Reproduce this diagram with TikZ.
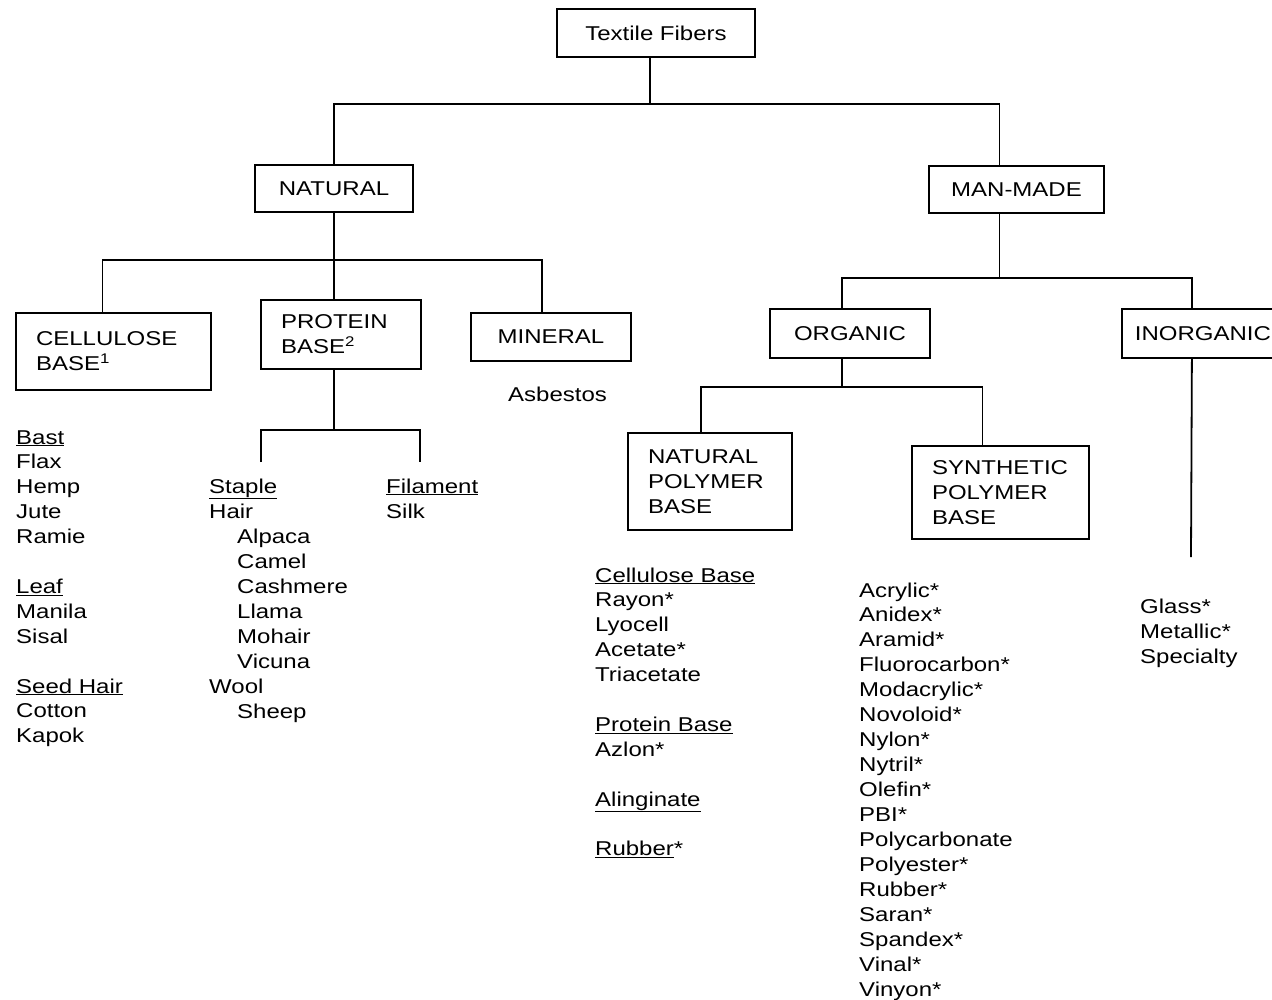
\documentclass[tikz,border=0pt]{standalone}
\usepackage{fontspec}
\setmainfont[FakeStretch=1.2]{Liberation Sans}
\tikzset{
  box/.style={draw, line width=1.8pt, inner xsep=20pt, inner ysep=0pt, font=\fontsize{20}{25}\selectfont},
  item/.style={anchor=base west, inner sep=0pt, font=\fontsize{20}{25}\selectfont},
  wire/.style={line width=1.8pt}
}
\begin{document}
\begin{tikzpicture}[x=1pt,y=-1pt]
	\useasboundingbox (0,0) rectangle (1272,999);
	\fill[white] (0,0) rectangle (1272,999);
	\clip (0,0) rectangle (1272,999);

	% boxes
	\node[box, text width=158pt, minimum height=48pt, align=center] (fibers) at (656,33) {Textile Fibers};
	\node[box, text width=118pt, minimum height=47pt, align=center] (nat) at (334,188.5) {NATURAL};
	\node[box, text width=135pt, minimum height=47pt, align=center] (man) at (1016.5,189.5) {MAN-MADE};

	\node[box, text width=155pt, minimum height=77pt, align=left] (cell) at (113.5,351.5) {CELLULOSE\\BASE\textsuperscript{1}};
	\node[box, text width=120pt, minimum height=69pt, align=left] (prot) at (341,334.5) {PROTEIN\\BASE\textsuperscript{2}};
	\node[box, text width=120pt, minimum height=48pt, align=center] (min) at (551,337) {MINERAL};
	\node[box, text width=120pt, minimum height=49pt, align=center] (org) at (850,333.5) {ORGANIC};
	\node[box, text width=160pt, minimum height=49pt, align=left, inner xsep=13pt, anchor=west] (inorg) at (1121,333.5) {INORGANIC};

	\node[box, text width=124pt, minimum height=97pt, align=left] (npb) at (710,481.5) {NATURAL\\POLYMER\\BASE};
	\node[box, text width=137pt, minimum height=93pt, align=left] (spb) at (1000.5,492.5) {SYNTHETIC\\POLYMER\\BASE};

	% ports
	\coordinate (fibersS) at ([xshift=-6pt]fibers.south);
	\coordinate (manN) at ([xshift=-17pt]man.north);
	\coordinate (manS) at ([xshift=-17pt]man.south);
	\coordinate (cellN) at ([xshift=-11pt]cell.north);
	\coordinate (protN) at ([xshift=-7pt]prot.north);
	\coordinate (protS) at ([xshift=-7pt]prot.south);
	\coordinate (minN) at ([xshift=-9pt]min.north);
	\coordinate (orgN) at ([xshift=-8pt]org.north);
	\coordinate (orgS) at ([xshift=-8pt]org.south);
	\coordinate (inorgN) at ([xshift=-23pt]inorg.north);
	\coordinate (inorgS) at ([xshift=-23pt]inorg.south);
	\coordinate (npbN) at ([xshift=-9pt]npb.north);
	\coordinate (spbN) at ([xshift=-18pt]spb.north);

	\coordinate (busA) at (0,104);
	\coordinate (busB) at (0,260);
	\coordinate (busC) at (0,430);
	\coordinate (busD) at (0,278);
	\coordinate (busE) at (0,387);
	\coordinate (stapleT) at (261,462);
	\coordinate (filT) at (420,462);
	\coordinate (inorgEnd) at (1191,557);

	% connectors
	\draw[wire] (fibersS) -- (fibersS |- busA);
	\draw[wire] (nat.north) -- (nat.north |- busA) -- (manN |- busA) -- (manN);

	\draw[wire] (nat.south) -- (nat.south |- busB);
	\draw[wire] (cellN) -- (cellN |- busB) -- (minN |- busB) -- (minN);
	\draw[wire] (protN) -- (protN |- busB);

	\draw[wire] (protS) -- (protS |- busC);
	\draw[wire] (stapleT) -- (stapleT |- busC) -- (filT |- busC) -- (filT);

	\draw[wire] (manS) -- (manS |- busD);
	\draw[wire] (orgN) -- (orgN |- busD) -- (inorgN |- busD) -- (inorgN);

	\draw[wire] (orgS) -- (orgS |- busE);
	\draw[wire] (npbN) -- (npbN |- busE) -- (spbN |- busE) -- (spbN);

	\draw[wire] (inorgS) -- (inorgEnd);

	% lists
	\node[item] (asb) at (508,401) {Asbestos};

	\foreach \t [count=\i from 0] in {\underline{Bast},Flax,Hemp,Jute,Ramie,,\underline{Leaf},Manila,Sisal,,\underline{Seed Hair},Cotton,Kapok}
		\node[item] (cel\i) at (16,444+24.9*\i) {\t};

	\foreach \x/\t [count=\i from 0] in {209/\underline{Staple},209/Hair,237/Alpaca,237/Camel,237/Cashmere,237/Llama,237/Mohair,237/Vicuna,209/Wool,237/Sheep}
		\node[item] (sta\i) at (\x,493+25*\i) {\t};

	\node[item] (fil0) at (386,493) {\underline{Filament}};
	\node[item] (fil1) at (386,518) {Silk};

	\foreach \t [count=\i from 0] in {\underline{Cellulose Base},Rayon*,Lyocell,Acetate*,Triacetate,,\underline{Protein Base},Azlon*,,\underline{Alinginate},,\underline{Rubber}*}
		\node[item] (npl\i) at (595,582+24.9*\i) {\t};

	\foreach \t [count=\i from 0] in {Acrylic*,Anidex*,Aramid*,Fluorocarbon*,Modacrylic*,Novoloid*,Nylon*,Nytril*,Olefin*,PBI*,Polycarbonate,Polyester*,Rubber*,Saran*,Spandex*,Vinal*,Vinyon*}
		\node[item] (spl\i) at (859,597+24.94*\i) {\t};

	\foreach \t [count=\i from 0] in {Glass*,Metallic*,Specialty}
		\node[item] (inl\i) at (1140,613+25*\i) {\t};
\end{tikzpicture}
\end{document}
